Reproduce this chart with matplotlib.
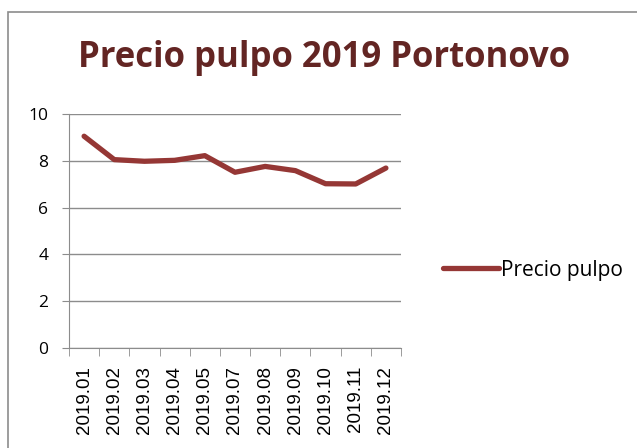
import matplotlib.pyplot as plt
from matplotlib.patches import Rectangle
import numpy as np

months = ["2019.01", "2019.02", "2019.03", "2019.04", "2019.05", "2019.07",
          "2019.08", "2019.09", "2019.10", "2019.11", "2019.12"]
prices = [9.05, 8.05, 7.98, 8.02, 8.22, 7.51, 7.76, 7.58, 7.02, 7.01, 7.69]
y_ticks = [0, 2, 4, 6, 8, 10]

fig = plt.figure(figsize=(6.37, 4.48), dpi=100)
fig.patches.append(Rectangle((8 / 637, -0.1), 1.2, 1 - 12 / 448 + 0.1, transform=fig.transFigure,
                             fill=False, edgecolor="#8c8c8c", linewidth=1.2))

ax = fig.add_axes([69 / 637, 1 - 348 / 448, 332 / 637, 234 / 448])
x = np.arange(len(months))
ax.plot(x, prices, color="#953735", linewidth=3.8, solid_capstyle="round",
        solid_joinstyle="round", label="Precio pulpo")

ax.set_xlim(-0.5, len(months) - 0.5)
ax.set_ylim(0, 10)
ax.set_yticks(y_ticks)
ax.set_yticklabels([str(v) for v in y_ticks], fontsize=12.5, family="Open Sans")
ax.set_xticks(x)
ax.set_xticklabels(months, rotation=90, fontsize=13.5, family="Liberation Sans")
ax.set_xticks(np.arange(len(months) + 1) - 0.5, minor=True)
ax.tick_params(axis="x", which="major", length=0, pad=13)
ax.tick_params(axis="x", which="minor", length=6, color="#8c8c8c")
ax.tick_params(axis="y", length=5, color="#8c8c8c", pad=10)

ax.grid(axis="y", color="#8c8c8c", linewidth=1)
ax.set_axisbelow(True)
for side in ["top", "right"]:
    ax.spines[side].set_visible(False)
for side in ["left", "bottom"]:
    ax.spines[side].set_color("#8c8c8c")

fig.text(0.508, 1 - 58 / 448, "Precio pulpo 2019 Portonovo", ha="center", va="center",
         fontsize=25, fontweight="bold", color="#632523", family="Open Sans")

ax.legend(loc="center left", bbox_to_anchor=(1.07, 0.333), frameon=False,
          handlelength=2.7, handletextpad=0.1, prop={"family": "Open Sans", "size": 15})

fig.savefig("out.png", dpi=100)
